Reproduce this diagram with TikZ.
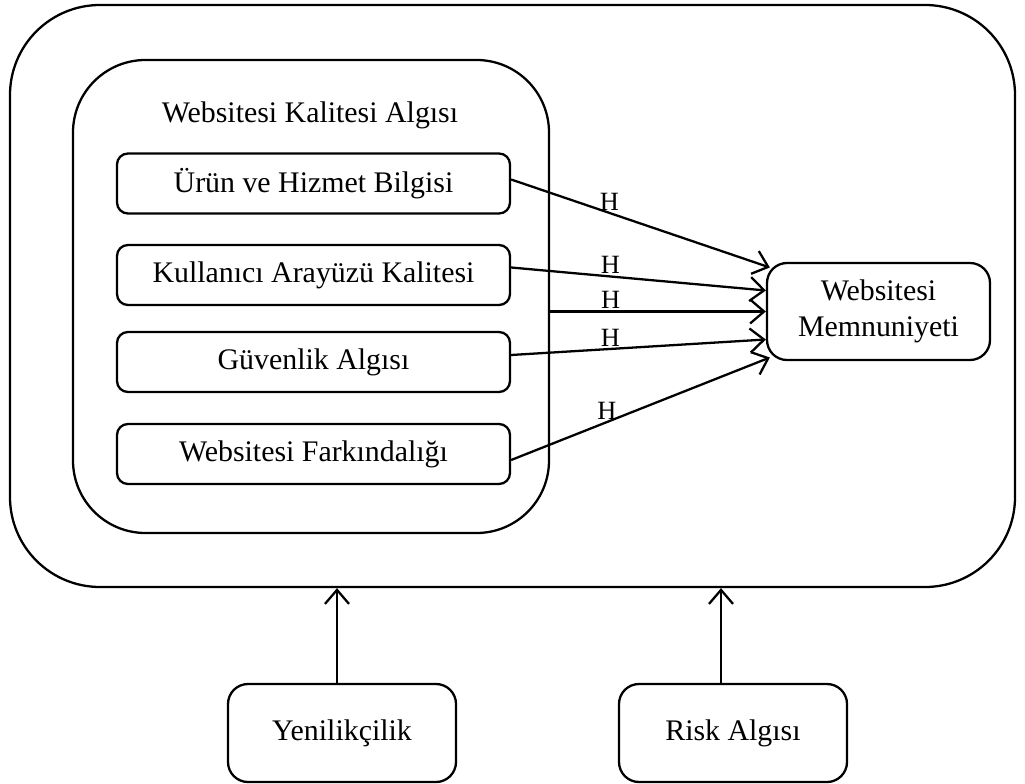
\documentclass[tikz,border=0pt]{standalone}
\usepackage{fontspec}
\setmainfont{Liberation Serif}
\usetikzlibrary{positioning,arrows.meta}
\tikzset{
  flowarrow/.style={-{Straight Barb[length=2.8mm,width=4.8mm]}, line width=1.3pt},
  bigframe/.style={draw, line width=1.3pt, minimum width=20.1cm, minimum height=11.64cm, rounded corners=1.8cm},
  groupframe/.style={draw, line width=1.3pt, minimum width=9.52cm, minimum height=9.46cm, rounded corners=1.45cm},
  itembox/.style={draw, line width=1.3pt, rounded corners=0.22cm, minimum width=7.86cm, minimum height=1.2cm, align=center},
  outbox/.style={draw, line width=1.3pt, rounded corners=0.4cm, minimum width=4.46cm, minimum height=1.94cm, align=center},
  modbox/.style={draw, line width=1.3pt, rounded corners=0.4cm, minimum width=4.56cm, minimum height=1.96cm, align=center},
  hlabel/.style={font=\fontsize{15}{17}\selectfont, inner sep=1pt}
}

\begin{document}
\begin{tikzpicture}[every node/.style={font=\fontsize{17}{20.5}\selectfont}]
      \useasboundingbox (0,0) rectangle (20.5,-15.68);
      % frames
      \node[bigframe] (outerbox) at (10.25,-5.92) {};
      \node[groupframe] (innerbox) at (6.22,-5.93) {};
      \node (grouptitle) at (6.2,-2.3) {Websitesi Kalitesi Algısı};
      % quality dimensions
      \node[itembox] (urun) at (6.27,-3.67) {Ürün ve Hizmet Bilgisi};
      \node[itembox] (arayuz) at (6.27,-5.5) {Kullanıcı Arayüzü Kalitesi};
      \node[itembox] (guven) at (6.27,-7.24) {Güvenlik Algısı};
      \node[itembox] (farkin) at (6.27,-9.08) {Websitesi Farkındalığı};
      \node[outbox] (memnun) at (17.57,-6.23) {Websitesi\\Memnuniyeti};
      % moderators
      \node[modbox] (yenilik) at (6.84,-14.66) {Yenilikçilik};
      \node[modbox] (risk) at (14.66,-14.66) {Risk Algısı};
      \draw[flowarrow] ([yshift=0.08cm]urun.east) -- node[hlabel, above, pos=0.38]{H} ([xshift=0.08cm,yshift=0.88cm]memnun.west);
      \draw[flowarrow] ([yshift=0.15cm]arayuz.east) -- node[hlabel, above, pos=0.39]{H} ([yshift=0.42cm]memnun.west);
      \draw[flowarrow] (innerbox.east |- memnun.west) -- node[hlabel, above, pos=0.28]{H} (memnun.west);
      \draw[flowarrow] ([yshift=0.14cm]guven.east) -- node[hlabel, above, pos=0.39]{H} ([yshift=-0.56cm]memnun.west);
      \draw[flowarrow] ([yshift=-0.12cm]farkin.east) -- node[hlabel, above, pos=0.37]{H} ([xshift=0.08cm,yshift=-0.92cm]memnun.west);
      \draw[flowarrow] ([xshift=-0.1cm]yenilik.north) -- ([xshift=-0.1cm]yenilik.north |- outerbox.south);
      \draw[flowarrow] ([xshift=-0.24cm]risk.north) -- ([xshift=-0.24cm]risk.north |- outerbox.south);
    \end{tikzpicture}
\end{document}
